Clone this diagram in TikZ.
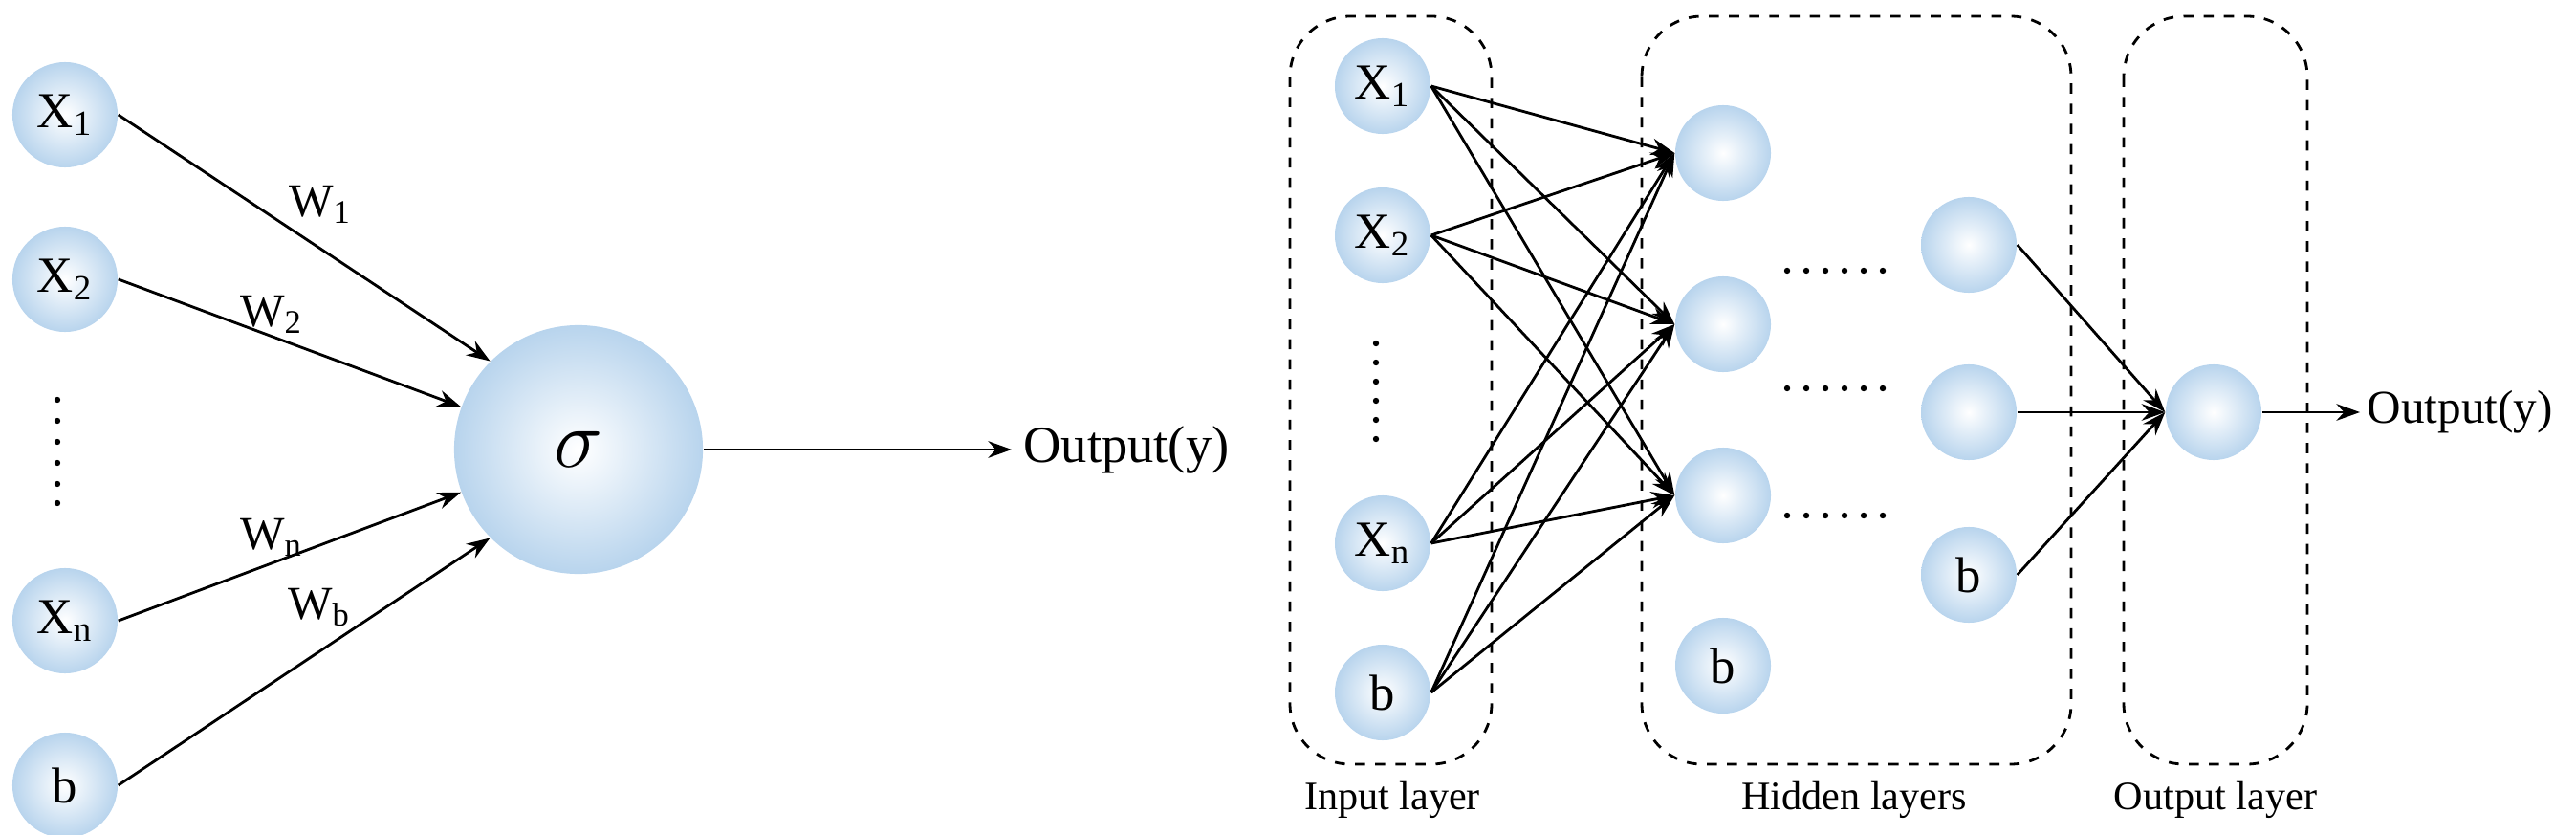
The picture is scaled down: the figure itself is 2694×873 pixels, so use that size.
\documentclass[tikz,border=0pt]{standalone}
\usepackage{fontspec}
\setmainfont{Liberation Serif}
\usetikzlibrary{arrows.meta}
\definecolor{nb}{RGB}{184,212,237}
\begin{document}
\begin{tikzpicture}[x=0.01cm,y=-0.01cm,
  neu/.style={circle,inner sep=0pt,minimum size=#1,inner color=white,outer color=nb,font=\fontsize{15}{17}\selectfont},
  neu/.default=1cm,
  arr/.style={-{Stealth[length=7pt,width=5pt]},line width=0.8pt},
  box/.style={draw,dashed,rounded corners=18pt,line width=0.8pt},
  lab/.style={font=\fontsize{15.5}{18}\selectfont},
  wl/.style={font=\fontsize{14}{16}\selectfont},
  laycap/.style={font=\fontsize{12}{14}\selectfont}]
\useasboundingbox (0,0) rectangle (2694,873);
% ---- left: single neuron
\node[neu=1.1cm] (a1) at (68,120) {X\textsubscript{1}};
\node[neu=1.1cm] (a2) at (68,292) {X\textsubscript{2}};
\node[neu=1.1cm] (an) at (68,649) {X\textsubscript{n}};
\node[neu=1.1cm] (ab) at (68,821) {b};
\node[neu=2.6cm] (s) at (605,470) {\scalebox{1.7}{$\sigma$}};
\foreach \y in {418,440,462,484,506,526} \fill (60,\y) circle (3.2);
\draw[arr] (a1.east) -- (s.135);
\draw[arr] (a2.east) -- (s.160);
\draw[arr] (an.east) -- (s.200);
\draw[arr] (ab.east) -- (s.225);
\node[wl] (w1) at (335,214) {W\textsubscript{1}};
\node[wl] (w2) at (284,329) {W\textsubscript{2}};
\node[wl] (wn) at (284,562) {W\textsubscript{n}};
\node[wl] (wb) at (334,635) {W\textsubscript{b}};
\node[lab,anchor=west] (o1) at (1058,470) {Output(y)};
\draw[arr] (s.east) -- (o1.west);
% ---- right: network
\draw[box] (1349,17) rectangle (1560,799);
\draw[box] (1717,17) rectangle (2166,799);
\draw[box] (2221,17) rectangle (2413,799);
\node[neu] (i1) at (1446,90) {X\textsubscript{1}};
\node[neu] (i2) at (1446,246) {X\textsubscript{2}};
\node[neu] (in) at (1446,568) {X\textsubscript{n}};
\node[neu] (ib) at (1446,724) {b};
\foreach \y in {359,379,399,419,439,459} \fill (1439,\y) circle (3.2);
\node[neu] (h1) at (1802,160) {};
\node[neu] (h2) at (1802,339) {};
\node[neu] (h3) at (1802,518) {};
\node[neu] (hb) at (1802,696) {b};
\node[neu] (g1) at (2059,256) {};
\node[neu] (g2) at (2059,431) {};
\node[neu] (gb) at (2059,601) {b};
\node[neu] (out) at (2315,431) {};
\foreach \y in {283,406,539} \foreach \x in {1869,1889,1909,1929,1949,1969} \fill (\x,\y) circle (3.2);
\foreach \s in {i1,i2,in,ib} \foreach \t in {h1,h2,h3} \draw[arr] (\s.east) -- (\t.west);
\foreach \s in {g1,g2,gb} \draw[arr] (\s.east) -- (out.west);
\node[font=\fontsize{14}{16}\selectfont,anchor=west,inner sep=2pt] (o2) at (2468,431) {Output(y)};
\draw[arr] (out.east) -- (o2.west);
\node[laycap] (c1) at (1456,836) {Input layer};
\node[laycap] (c2) at (1939,836) {Hidden layers};
\node[laycap] (c3) at (2317,836) {Output layer};
\end{tikzpicture}
\end{document}
